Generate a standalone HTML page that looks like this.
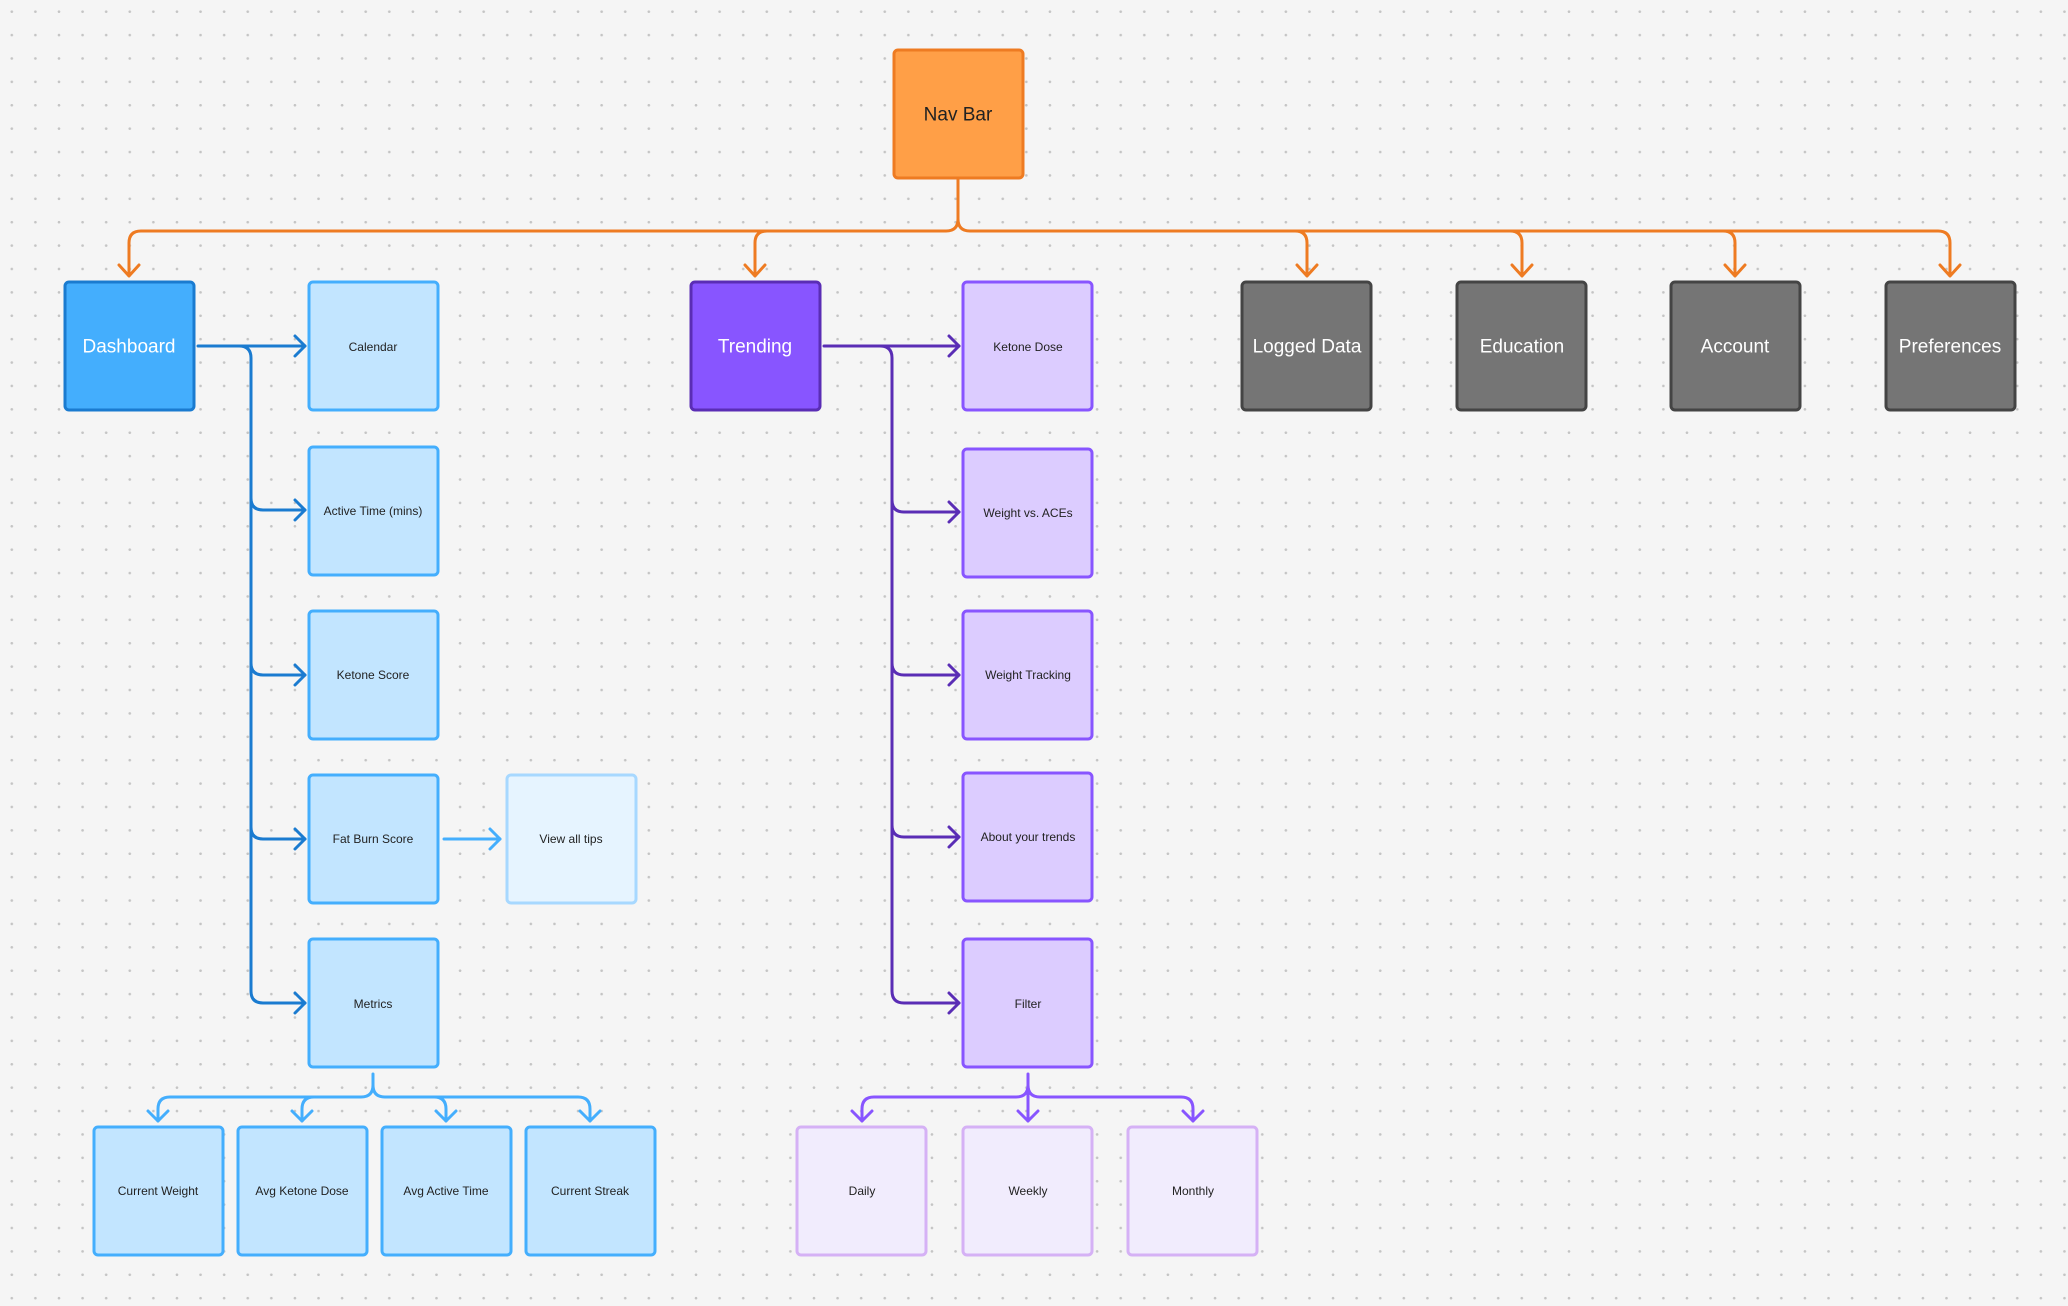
<!DOCTYPE html>
<html><head><meta charset="utf-8"><style>
html,body{margin:0;padding:0;}
body{width:2068px;height:1306px;background-color:#f5f5f5;background-image:radial-gradient(circle,#c4c4c4 1.2px,transparent 1.4px);background-size:23.6px 23.4px;background-position:0 0;overflow:hidden;font-family:"Liberation Sans",sans-serif;}
svg{position:absolute;left:0;top:0;}
text{font-family:"Liberation Sans",sans-serif;text-anchor:middle;dominant-baseline:central;}
.big{font-size:19px;fill:#fff;}
.sm{font-size:12px;fill:#222;}
path{fill:none;stroke-width:3;stroke-linecap:round;stroke-linejoin:round;}
</style></head><body>
<svg width="2068" height="1306" viewBox="0 0 2068 1306">
<!-- orange connectors -->
<g stroke="#EE7B22">
<path d="M958,180 V219 Q958,231 946,231 H141 Q129,231 129,243 V275"/>
<path d="M958,219 Q958,231 970,231 H1938 Q1950,231 1950,243 V275"/>
<path d="M767,231 Q755,231 755,243 V275"/>
<path d="M1295,231 Q1307,231 1307,243 V275"/>
<path d="M1510,231 Q1522,231 1522,243 V275"/>
<path d="M1723,231 Q1735,231 1735,243 V275"/>
<path d="M119,265 L129,276 L139,265"/><path d="M745,265 L755,276 L765,265"/>
<path d="M1297,265 L1307,276 L1317,265"/><path d="M1512,265 L1522,276 L1532,265"/>
<path d="M1725,265 L1735,276 L1745,265"/><path d="M1940,265 L1950,276 L1960,265"/>
</g>
<!-- blue connectors -->
<g stroke="#1A7BD0">
<path d="M198,346 H305"/>
<path d="M239,346 Q251,346 251,358 V991 Q251,1003 263,1003 H305"/>
<path d="M251,498 Q251,510 263,510 H305"/>
<path d="M251,663 Q251,675 263,675 H305"/>
<path d="M251,827 Q251,839 263,839 H305"/>
<path d="M295,336 L305,346 L295,356"/><path d="M295,500 L305,510 L295,520"/>
<path d="M295,665 L305,675 L295,685"/><path d="M295,829 L305,839 L295,849"/>
<path d="M295,993 L305,1003 L295,1013"/>
</g>
<g stroke="#44AEFD">
<path d="M444,839 H500"/><path d="M490,829 L500,839 L490,849"/>
<path d="M373,1074 V1085 Q373,1097 361,1097 H170 Q158,1097 158,1109 V1121"/>
<path d="M373,1085 Q373,1097 385,1097 H578 Q590,1097 590,1109 V1121"/>
<path d="M314,1097 Q302,1097 302,1109 V1121"/>
<path d="M434,1097 Q446,1097 446,1109 V1121"/>
<path d="M148,1111 L158,1121 L168,1111"/><path d="M292,1111 L302,1121 L312,1111"/>
<path d="M436,1111 L446,1121 L456,1111"/><path d="M580,1111 L590,1121 L600,1111"/>
</g>
<!-- purple connectors -->
<g stroke="#5A2DB5">
<path d="M824,346 H959"/>
<path d="M880,346 Q892,346 892,358 V991 Q892,1003 904,1003 H959"/>
<path d="M892,500 Q892,512 904,512 H959"/>
<path d="M892,663 Q892,675 904,675 H959"/>
<path d="M892,825 Q892,837 904,837 H959"/>
<path d="M949,336 L959,346 L949,356"/><path d="M949,502 L959,512 L949,522"/>
<path d="M949,665 L959,675 L949,685"/><path d="M949,827 L959,837 L949,847"/>
<path d="M949,993 L959,1003 L949,1013"/>
</g>
<g stroke="#8855FF">
<path d="M1028,1074 V1121"/>
<path d="M1028,1085 Q1028,1097 1016,1097 H874 Q862,1097 862,1109 V1121"/>
<path d="M1028,1085 Q1028,1097 1040,1097 H1181 Q1193,1097 1193,1109 V1121"/>
<path d="M852,1111 L862,1121 L872,1111"/><path d="M1018,1111 L1028,1121 L1038,1111"/>
<path d="M1183,1111 L1193,1121 L1203,1111"/>
</g>
<!-- nodes -->
<g stroke-width="3">
<rect x="894" y="50" width="129" height="128" rx="4" fill="#FF9F47" stroke="#EE7B22"/>
<rect x="65" y="282" width="129" height="128" rx="4" fill="#44AEFD" stroke="#1A7BD0"/>
<rect x="691" y="282" width="129" height="128" rx="4" fill="#8855FF" stroke="#5A2DB5"/>
<g fill="#757575" stroke="#444">
<rect x="1242" y="282" width="129" height="128" rx="4"/>
<rect x="1457" y="282" width="129" height="128" rx="4"/>
<rect x="1671" y="282" width="129" height="128" rx="4"/>
<rect x="1886" y="282" width="129" height="128" rx="4"/>
</g>
<g fill="#C2E5FF" stroke="#44AEFD">
<rect x="309" y="282" width="129" height="128" rx="4"/>
<rect x="309" y="447" width="129" height="128" rx="4"/>
<rect x="309" y="611" width="129" height="128" rx="4"/>
<rect x="309" y="775" width="129" height="128" rx="4"/>
<rect x="309" y="939" width="129" height="128" rx="4"/>
<rect x="94" y="1127" width="129" height="128" rx="4"/>
<rect x="238" y="1127" width="129" height="128" rx="4"/>
<rect x="382" y="1127" width="129" height="128" rx="4"/>
<rect x="526" y="1127" width="129" height="128" rx="4"/>
</g>
<rect x="507" y="775" width="129" height="128" rx="4" fill="#E6F4FF" stroke="#A7D8FF"/>
<g fill="#DCCCFF" stroke="#8855FF">
<rect x="963" y="282" width="129" height="128" rx="4"/>
<rect x="963" y="449" width="129" height="128" rx="4"/>
<rect x="963" y="611" width="129" height="128" rx="4"/>
<rect x="963" y="773" width="129" height="128" rx="4"/>
<rect x="963" y="939" width="129" height="128" rx="4"/>
</g>
<g fill="#F1ECFD" stroke="#D5B1F5">
<rect x="797" y="1127" width="129" height="128" rx="4"/>
<rect x="963" y="1127" width="129" height="128" rx="4"/>
<rect x="1128" y="1127" width="129" height="128" rx="4"/>
</g>
</g>
<!-- labels -->
<text class="big" x="958" y="115" style="fill:#222">Nav Bar</text>
<text class="big" x="129" y="347">Dashboard</text>
<text class="big" x="755" y="347">Trending</text>
<text class="big" x="1307" y="347">Logged Data</text>
<text class="big" x="1522" y="347">Education</text>
<text class="big" x="1735" y="347">Account</text>
<text class="big" x="1950" y="347">Preferences</text>
<text class="sm" x="373" y="347">Calendar</text>
<text class="sm" x="373" y="511">Active Time (mins)</text>
<text class="sm" x="373" y="675">Ketone Score</text>
<text class="sm" x="373" y="839">Fat Burn Score</text>
<text class="sm" x="373" y="1004">Metrics</text>
<text class="sm" x="571" y="839">View all tips</text>
<text class="sm" x="158" y="1191">Current Weight</text>
<text class="sm" x="302" y="1191">Avg Ketone Dose</text>
<text class="sm" x="446" y="1191">Avg Active Time</text>
<text class="sm" x="590" y="1191">Current Streak</text>
<text class="sm" x="1028" y="347">Ketone Dose</text>
<text class="sm" x="1028" y="513">Weight vs. ACEs</text>
<text class="sm" x="1028" y="675">Weight Tracking</text>
<text class="sm" x="1028" y="837">About your trends</text>
<text class="sm" x="1028" y="1004">Filter</text>
<text class="sm" x="862" y="1191">Daily</text>
<text class="sm" x="1028" y="1191">Weekly</text>
<text class="sm" x="1193" y="1191">Monthly</text>
</svg>
</body></html>
